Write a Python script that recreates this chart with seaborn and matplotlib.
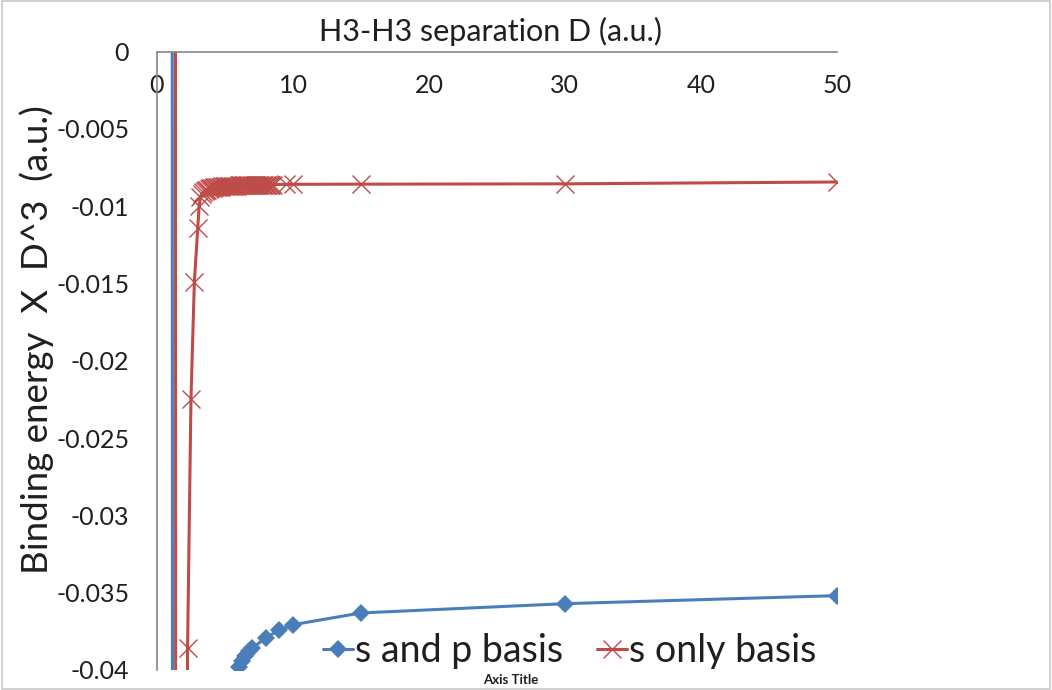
import numpy as np
import pandas as pd
import seaborn as sns
import matplotlib.pyplot as plt
from matplotlib.patches import Rectangle

# s and p basis (blue diamonds), the first points sit far outside the window
D_sp = [1.0, 1.25, 1.5, 2.0, 3.0, 4.0, 5.0, 6.0, 6.25, 6.5, 6.75, 7.0,
        8.0, 9.0, 10.0, 15.0, 30.0, 50.0]
E_sp = [0.35, -0.35, -0.9, -0.6, -0.25, -0.12, -0.065, -0.0398, -0.0394,
        -0.0391, -0.0388, -0.0386, -0.0379, -0.03743, -0.03707, -0.03631,
        -0.03571, -0.03519]

# s only basis (red crosses)
D_s = [1.25, 1.5, 2.0, 2.25, 2.5, 2.75, 3.0, 3.1,
       3.2, 3.3, 3.4, 3.5, 3.6, 3.7, 3.8, 3.9, 4.0, 4.1,
       4.2, 4.3, 4.4, 4.5, 4.6, 4.7, 4.8, 4.9, 5.0, 5.1,
       5.2, 5.3, 5.4, 5.5, 5.6, 5.7, 5.8, 5.9, 6.0, 6.1,
       6.2, 6.3, 6.4, 6.5, 6.6, 6.7, 6.8, 6.9, 7.0, 7.1,
       7.2, 7.3, 7.4, 7.5, 7.6, 7.7, 7.8, 7.9, 8.0, 8.1,
       8.2, 8.3, 8.4, 8.5, 9.5, 10.0, 15.0, 30.0, 50.0]
E_s = [0.5, -0.6, -0.08, -0.0386, -0.0225, -0.0149, -0.0114, -0.0100,
       -0.0094, -0.0092, -0.0091, -0.00903, -0.00897, -0.00892, -0.00888, -0.00885, -0.00882, -0.00880,
       -0.00878, -0.00877, -0.00876, -0.00875, -0.00874, -0.00873, -0.00872, -0.00871, -0.00870, -0.00869,
       -0.00869, -0.00868, -0.00868, -0.00867, -0.00867, -0.00866, -0.00866, -0.00866, -0.00865, -0.00865,
       -0.00865, -0.00864, -0.00864, -0.00864, -0.00864, -0.00863, -0.00863, -0.00863, -0.00863, -0.00863,
       -0.00862, -0.00862, -0.00862, -0.00862, -0.00862, -0.00862, -0.00861, -0.00861, -0.00861, -0.00861,
       -0.00861, -0.00861, -0.00860, -0.00860, -0.00858, -0.00858, -0.00857, -0.00855, -0.00843]

x_ticks = [0, 10, 20, 30, 40, 50]
y_ticks = [0, -0.005, -0.01, -0.015, -0.02, -0.025, -0.03, -0.035, -0.04]
y_tick_labels = ['0', '-0.005', '-0.01', '-0.015', '-0.02', '-0.025', '-0.03', '-0.035', '-0.04']

BLUE = '#4a7ebb'
RED = '#be4b48'
GREY = '#868686'
TXT = '#1f1f1f'

sns.set_theme(style='white')
plt.rcParams['font.family'] = ['Lato', 'DejaVu Sans']

sp = pd.DataFrame({'D': D_sp, 'E': E_sp})
so = pd.DataFrame({'D': D_s, 'E': E_s})

fig = plt.figure(figsize=(10.52, 6.90), dpi=100)
ax = fig.add_axes([0.1492, 0.029, 0.6464, 0.8961])

sns.lineplot(data=sp, x='D', y='E', ax=ax, color=BLUE, lw=2.2, marker='D',
             markersize=9.5, markeredgewidth=0, estimator=None,
             label='s and p basis')
sns.lineplot(data=so, x='D', y='E', ax=ax, color=RED, lw=2.2, marker='x',
             markersize=13, markeredgewidth=1.0, markeredgecolor=RED,
             estimator=None, label='s only basis')

ax.set_xlim(0, 50)
ax.set_ylim(-0.04, 0)
ax.set_xticks(x_ticks)
ax.set_xticklabels([str(t) for t in x_ticks])
ax.set_yticks(y_ticks)
ax.set_yticklabels(y_tick_labels)

# Excel style: horizontal axis crosses at y = 0, so it sits on the top edge
ax.spines['bottom'].set_position(('data', 0))
for s in ['top', 'right']:
    ax.spines[s].set_visible(False)
for s in ['bottom', 'left']:
    ax.spines[s].set_color(GREY)
    ax.spines[s].set_linewidth(1.2)
ax.tick_params(axis='both', which='major', direction='out', length=6,
               width=1.2, color=GREY, labelsize=18, labelcolor=TXT)
ax.tick_params(axis='x', pad=10)
ax.tick_params(axis='y', pad=14)

ax.set_xlabel('')
ax.set_ylabel('Binding energy  X  D^3  (a.u.)', fontsize=26.5, color=TXT)
ax.yaxis.set_label_coords(-0.152, 0.534)
ax.set_title('H3-H3 separation D (a.u.)', fontsize=22, color=TXT, pad=8, x=0.49)

leg = ax.legend(loc='center', bbox_to_anchor=(0.607, 0.03), ncol=2,
                frameon=False, fontsize=27, handlelength=0.8,
                handletextpad=0.05, columnspacing=0.9, borderaxespad=0)
for t in leg.get_texts():
    t.set_color(TXT)

fig.text(511 / 1052, 1 - 680 / 690, 'Axis Title', ha='center', va='center',
         fontsize=9.5, fontweight='bold', color=TXT)

fig.patches.append(Rectangle((0.002, 0.002), 0.996, 0.996, transform=fig.transFigure,
                             fill=False, edgecolor='#c8c8c8', lw=1.2))

fig.savefig('out.png', dpi=100)
